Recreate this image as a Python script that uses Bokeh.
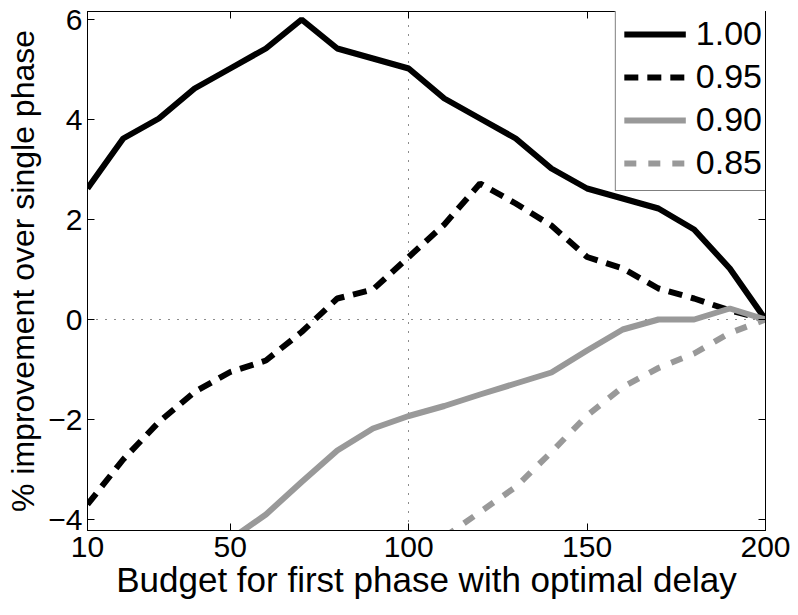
from bokeh.plotting import figure
from bokeh.models import LinearAxis, FixedTicker, Range1d, Legend, LegendItem
from bokeh.embed import file_html
from bokeh.resources import INLINE

# ---- data ----
budget = [10, 20, 30, 40, 50, 60, 70, 80, 90, 100,
          110, 120, 130, 140, 150, 160, 170, 180, 190, 200]
imp_100 = [2.62, 3.62, 4.02, 4.62, 5.02, 5.42, 6.0, 5.42, 5.22, 5.02,
           4.42, 4.02, 3.62, 3.02, 2.62, 2.42, 2.22, 1.8, 1.02, 0.0]
imp_095 = [-3.7, -2.8, -2.05, -1.45, -1.05, -0.82, -0.25, 0.42, 0.6, 1.25,
           1.9, 2.72, 2.32, 1.88, 1.25, 1.02, 0.62, 0.42, 0.18, 0.0]
budget_090 = [50, 60, 70, 80, 90, 100, 110, 120, 130, 140, 150, 160, 170, 180, 190, 200]
imp_090 = [-4.4, -3.9, -3.25, -2.62, -2.18, -1.93, -1.73, -1.5, -1.28, -1.06,
           -0.62, -0.2, 0.0, 0.0, 0.22, 0.0]
budget_085 = [110, 120, 130, 140, 150, 160, 170, 180, 190, 200]
imp_085 = [-4.35, -3.85, -3.35, -2.65, -1.92, -1.35, -0.97, -0.68, -0.27, 0.0]

series_labels = ["1.00", "0.95", "0.90", "0.85"]
x_ticks = [10, 50, 100, 150, 200]
y_ticks = [-4, -2, 0, 2, 4, 6]
x_label = "Budget for first phase with optimal delay"
y_label = "% improvement over single phase"

FONT = "Liberation Sans"
GRAY = "#999999"

p = figure(width=798, height=615,
           x_range=Range1d(10, 200), y_range=Range1d(-4.22, 6.16),
           output_backend="svg", toolbar_location=None,
           min_border_left=87, min_border_right=33,
           min_border_top=11, min_border_bottom=85,
           background_fill_color="white", border_fill_color="white")

p.outline_line_color = "black"
p.outline_line_width = 1

# grid: only dotted lines at x=100, y=0
p.xgrid.ticker = FixedTicker(ticks=[100])
p.ygrid.ticker = FixedTicker(ticks=[0])
for g in (p.xgrid, p.ygrid):
    g.grid_line_color = "black"
    g.grid_line_dash = "1 8"
    g.grid_line_width = 1
    g.grid_line_alpha = 0.9

minus = "\u2212"
def fmt(v):
    return (minus + str(abs(v))) if v < 0 else str(v)

def style_axis(ax, ticks, labels=True, label_size="30px"):
    ax.ticker = FixedTicker(ticks=ticks)
    ax.major_tick_in = 7
    ax.major_tick_out = 0
    ax.minor_tick_in = 0
    ax.minor_tick_out = 0
    ax.axis_line_color = "black"
    ax.major_tick_line_color = "black"
    ax.axis_line_width = 1
    if labels:
        ax.major_label_text_font = FONT
        ax.major_label_text_font_size = "30px"
        ax.major_label_text_color = "black"
        ax.axis_label_text_font = FONT
        ax.axis_label_text_font_size = label_size
        ax.axis_label_text_font_style = "normal"
        ax.axis_label_text_color = "black"
        ax.major_label_overrides = {t: fmt(t) for t in ticks}
    else:
        ax.major_label_text_font_size = "0px"
        ax.major_label_text_alpha = 0

xa = p.xaxis[0]
ya = p.yaxis[0]
style_axis(xa, x_ticks, label_size="35px")
style_axis(ya, y_ticks, label_size="32px")
xa.axis_label = x_label
ya.axis_label = y_label
xa.major_label_standoff = 6
xa.axis_label_standoff = 0
ya.major_label_standoff = 5
ya.axis_label_standoff = 4

top = LinearAxis()
style_axis(top, x_ticks, labels=False)
right = LinearAxis()
style_axis(right, y_ticks, labels=False)
p.add_layout(top, "above")
p.add_layout(right, "right")

r1 = p.line(budget, imp_100, line_color="black", line_width=6)
r2 = p.line(budget, imp_095, line_color="black", line_width=6, line_dash="14 9")
r3 = p.line(budget_090, imp_090, line_color=GRAY, line_width=6)
r4 = p.line(budget_085, imp_085, line_color=GRAY, line_width=6, line_dash="12 12")

legend = Legend(items=[LegendItem(label=l, renderers=[r]) for l, r in
                       zip(series_labels, [r1, r2, r3, r4])],
                location="top_right")
legend.margin = -6
legend.padding = 8
legend.spacing = 4
legend.glyph_width = 62
legend.glyph_height = 38
legend.label_standoff = 10
legend.label_text_font = FONT
legend.label_text_font_size = "34px"
legend.label_text_color = "black"
legend.border_line_color = "black"
legend.border_line_width = 1
legend.background_fill_color = "white"
legend.background_fill_alpha = 1
p.add_layout(legend, "center")

open("out.html", "w").write(file_html(p, INLINE))
